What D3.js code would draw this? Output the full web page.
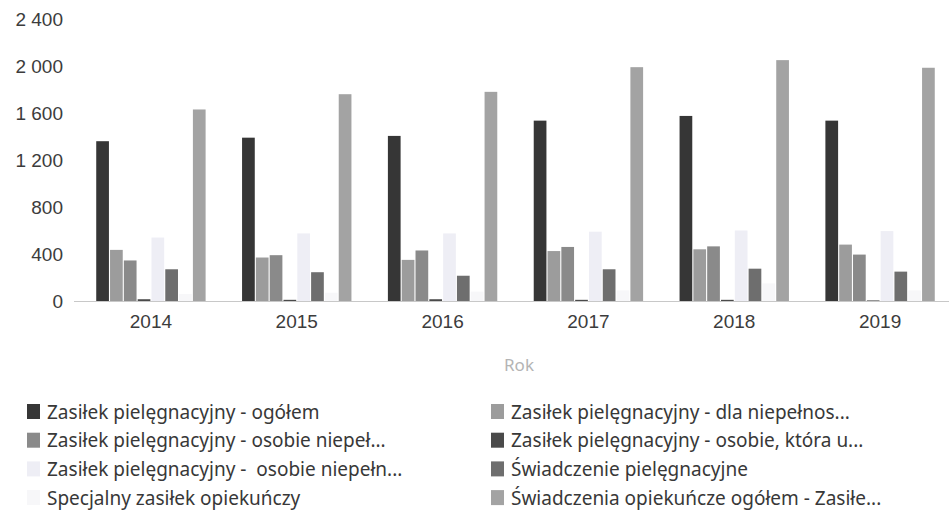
<!DOCTYPE html>
<html>
<head>
<meta charset="utf-8">
<script src="https://cdn.jsdelivr.net/npm/d3@7"></script>
<style>
  html, body { margin: 0; padding: 0; background: #fff; }
  svg { display: block; font-family: "Noto Sans", "Open Sans", sans-serif; }
</style>
</head>
<body>
<svg id="chart" width="949" height="515"></svg>
<script>
// Years on the category axis
const years = ["2014", "2015", "2016", "2017", "2018", "2019"];

// Series names (as shown in the legend, truncated)
const seriesNames = [
  "Zasiłek pielęgnacyjny - ogółem",
  "Zasiłek pielęgnacyjny - dla niepełnos...",
  "Zasiłek pielęgnacyjny - osobie niepeł...",
  "Zasiłek pielęgnacyjny - osobie, która u...",
  "Zasiłek pielęgnacyjny -  osobie niepełn...",
  "Świadczenie pielęgnacyjne",
  "Specjalny zasiłek opiekuńczy",
  "Świadczenia opiekuńcze ogółem - Zasiłe..."
];

// Values per series, one per year
const zpOgolem      = [1360, 1390, 1405, 1535, 1575, 1535];
const zpDlaNiepeln  = [435, 370, 350, 425, 440, 480];
const zpOsobieNiep  = [345, 390, 430, 460, 465, 395];
const zpOsobieKtora = [15, 10, 15, 10, 10, 5];
const zpOsobieNiep2 = [540, 575, 575, 590, 600, 595];
const swPielegn     = [270, 245, 215, 270, 275, 250];
const specZasilek   = [60, 70, 80, 90, 150, 90];
const swOpiekOgolem = [1630, 1760, 1780, 1990, 2050, 1985];

const seriesValues = [zpOgolem, zpDlaNiepeln, zpOsobieNiep, zpOsobieKtora,
                      zpOsobieNiep2, swPielegn, specZasilek, swOpiekOgolem];

const yTicks = [0, 400, 800, 1200, 1600, 2000, 2400];

const colors = ["#363636", "#9c9c9c", "#8a8a8a", "#4a4a4a",
                "#eeeef5", "#6e6e6e", "#f7f7f9", "#a3a3a3"];

const svg = d3.select("#chart");

const x0 = d3.scaleBand().domain(years).range([78, 953])
  .paddingInner(0.25).paddingOuter(0.125);
const x1 = d3.scaleBand().domain(d3.range(seriesNames.length))
  .range([0, x0.bandwidth()]).paddingInner(0.08);
const y = d3.scaleLinear().domain([0, 2400]).range([301, 19]);

// Thousands separated with a space
const fmt = v => d3.format(",")(v).replace(/,/g, " ");

// Y axis labels
const yAxis = svg.append("g").attr("transform", "translate(70,0)")
  .call(d3.axisLeft(y).tickValues(yTicks).tickSize(0).tickPadding(7).tickFormat(fmt));
yAxis.select(".domain").remove();
yAxis.selectAll("text").attr("font-size", 19).attr("fill", "#3c3c3c")
  .style("font-family", "inherit");

// Baseline
svg.append("line").attr("x1", 74).attr("x2", 949)
  .attr("y1", y(0) + 0.5).attr("y2", y(0) + 0.5)
  .attr("stroke", "#c8c8c8").attr("stroke-width", 1);

// Bars
const groups = svg.append("g").selectAll("g").data(years).join("g")
  .attr("transform", d => `translate(${x0(d)},0)`);
groups.selectAll("rect")
  .data((yr, i) => seriesValues.map((vals, s) => ({ s, v: vals[i] })))
  .join("rect")
  .attr("x", d => x1(d.s))
  .attr("width", x1.bandwidth())
  .attr("y", d => y(d.v))
  .attr("height", d => y(0) - y(d.v))
  .attr("fill", d => colors[d.s]);

// X axis labels
const xAxis = svg.append("g").attr("transform", `translate(0,${y(0)})`)
  .call(d3.axisBottom(x0).tickSize(0).tickPadding(14));
xAxis.select(".domain").remove();
xAxis.selectAll("text").attr("font-size", 19).attr("fill", "#3c3c3c")
  .style("font-family", "inherit");

// X axis title
svg.append("text").attr("x", 519).attr("y", 371).attr("text-anchor", "middle")
  .attr("font-size", 17).attr("fill", "#b4b4b4").text("Rok");

// Legend: two columns, filled row by row
const legend = svg.append("g").selectAll("g").data(seriesNames).join("g")
  .attr("transform", (d, i) => `translate(${i % 2 === 0 ? 27 : 491},${412 + Math.floor(i / 2) * 28.7})`);
legend.append("rect").attr("x", 0).attr("y", -8).attr("width", 13).attr("height", 15)
  .attr("fill", (d, i) => colors[i]);
legend.append("text").attr("x", 20).attr("y", 0).attr("dy", "0.35em")
  .style("white-space", "pre")
  .attr("font-size", 19).attr("fill", "#383838").text(d => d);
</script>
</body>
</html>
